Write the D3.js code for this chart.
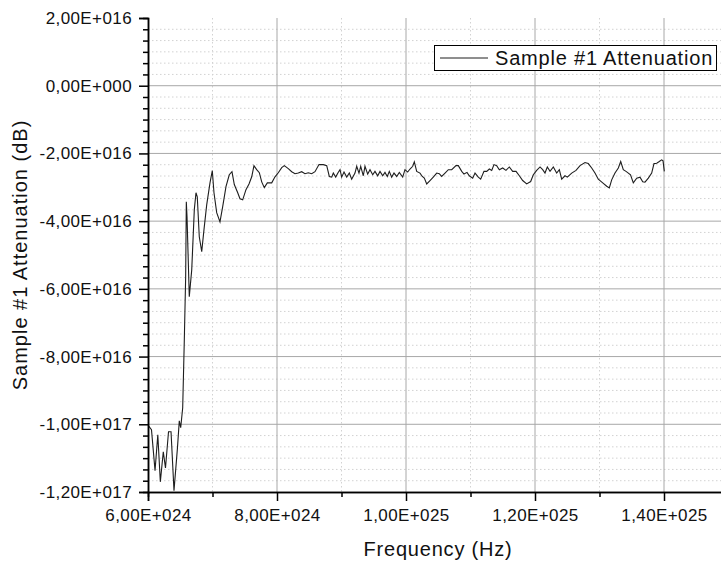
<!DOCTYPE html>
<html>
<head>
<meta charset="utf-8">
<script src="https://cdn.jsdelivr.net/npm/d3@7"></script>
<style>
  body { margin: 0; background: #fff; }
  svg { display: block; font-family: "Liberation Sans", Arial, sans-serif; }
  .tick text { fill: #111; }
</style>
</head>
<body>
<div class="chart"></div>
<script>
// frequency in units of 1E24 Hz
var freq = [6.005, 6.054, 6.109, 6.152, 6.191, 6.237, 6.271, 6.318, 6.357, 6.403,
  6.457, 6.485, 6.507, 6.538, 6.563, 6.584, 6.594, 6.605, 6.640, 6.678,
  6.718, 6.744, 6.764, 6.795, 6.833, 6.868, 6.910, 6.961, 6.997, 7.023,
  7.065, 7.116, 7.158, 7.209, 7.260, 7.302, 7.338, 7.391, 7.426, 7.468,
  7.519, 7.566, 7.608, 7.643, 7.685, 7.726, 7.763, 7.803, 7.850, 7.918,
  7.969, 8.020, 8.073, 8.113, 8.175, 8.228, 8.279, 8.330, 8.383, 8.434,
  8.485, 8.538, 8.589, 8.651, 8.718, 8.771, 8.811, 8.848, 8.873, 8.910,
  8.946, 8.977, 9.003, 9.039, 9.081, 9.121, 9.158, 9.209, 9.236, 9.271,
  9.298, 9.338, 9.364, 9.406, 9.442, 9.484, 9.519, 9.561, 9.597, 9.639,
  9.674, 9.710, 9.741, 9.778, 9.814, 9.856, 9.896, 9.949, 9.984, 10.026,
  10.062, 10.104, 10.129, 10.166, 10.217, 10.253, 10.284, 10.321, 10.372, 10.423,
  10.476, 10.516, 10.553, 10.605, 10.656, 10.709, 10.775, 10.811, 10.864, 10.899,
  10.946, 10.981, 11.034, 11.070, 11.121, 11.158, 11.209, 11.251, 11.292, 11.329,
  11.364, 11.406, 11.447, 11.499, 11.550, 11.602, 11.654, 11.706, 11.757, 11.809,
  11.871, 11.933, 11.974, 12.026, 12.078, 12.119, 12.155, 12.191, 12.233, 12.284,
  12.336, 12.377, 12.414, 12.465, 12.501, 12.569, 12.636, 12.698, 12.775, 12.826,
  12.879, 12.930, 12.981, 13.050, 13.112, 13.152, 13.189, 13.240, 13.292, 13.329,
  13.369, 13.411, 13.447, 13.481, 13.524, 13.577, 13.628, 13.670, 13.705, 13.757,
  13.809, 13.845, 13.887, 13.927, 13.964, 13.985, 14.005];

// attenuation in units of 1E16 dB
var atten = [-10.04, -10.16, -11.37, -10.31, -11.70, -10.81, -11.29, -10.22, -10.22, -11.96,
  -10.69, -9.90, -10.10, -9.51, -7.50, -5.64, -3.43, -3.87, -6.23, -5.44,
  -3.66, -3.16, -3.28, -4.46, -4.90, -4.25, -3.52, -2.87, -2.51, -3.16,
  -3.75, -4.02, -3.57, -2.98, -2.63, -2.54, -2.92, -3.16, -3.34, -3.37,
  -3.07, -2.90, -2.69, -2.36, -2.48, -2.57, -2.84, -3.01, -2.87, -2.87,
  -2.69, -2.57, -2.42, -2.36, -2.45, -2.54, -2.60, -2.58, -2.54, -2.60,
  -2.57, -2.60, -2.54, -2.33, -2.33, -2.36, -2.68, -2.70, -2.58, -2.70,
  -2.57, -2.48, -2.70, -2.55, -2.70, -2.58, -2.76, -2.58, -2.38, -2.58,
  -2.38, -2.66, -2.38, -2.61, -2.48, -2.63, -2.53, -2.66, -2.53, -2.66,
  -2.56, -2.68, -2.53, -2.70, -2.58, -2.68, -2.56, -2.70, -2.48, -2.55,
  -2.46, -2.38, -2.25, -2.53, -2.58, -2.68, -2.73, -2.90, -2.80, -2.70,
  -2.58, -2.60, -2.68, -2.58, -2.48, -2.48, -2.36, -2.36, -2.53, -2.61,
  -2.56, -2.66, -2.73, -2.58, -2.70, -2.76, -2.53, -2.53, -2.46, -2.50,
  -2.33, -2.36, -2.48, -2.43, -2.50, -2.40, -2.53, -2.53, -2.66, -2.80,
  -2.90, -2.83, -2.63, -2.50, -2.40, -2.48, -2.58, -2.40, -2.53, -2.40,
  -2.58, -2.48, -2.76, -2.66, -2.70, -2.58, -2.50, -2.36, -2.27, -2.30,
  -2.43, -2.58, -2.76, -2.87, -2.97, -3.02, -2.78, -2.58, -2.43, -2.24,
  -2.48, -2.53, -2.58, -2.63, -2.87, -2.73, -2.70, -2.84, -2.85, -2.73,
  -2.58, -2.30, -2.29, -2.24, -2.19, -2.22, -2.53];

var xTicks = [6, 8, 10, 12, 14];
var xTickLabels = ["6,00E+024", "8,00E+024", "1,00E+025", "1,20E+025", "1,40E+025"];
var xMinor = [7, 9, 11, 13, 15];
var yTicks = [2, 0, -2, -4, -6, -8, -10, -12];
var yTickLabels = ["2,00E+016", "0,00E+000", "-2,00E+016", "-4,00E+016", "-6,00E+016",
  "-8,00E+016", "-1,00E+017", "-1,20E+017"];

var svgWidth = 721, svgHeight = 566;
var plotLeft = 148, plotTop = 18, plotBottom = 492;

var data = freq.map(function(f, i) { return { f: f, a: atten[i] }; });

var x = d3.scaleLinear().domain([6, 15]).range([plotLeft, plotLeft + 9 * 64.5]);
var y = d3.scaleLinear().domain([-12, 2]).range([plotBottom, plotTop]);

// minor y values: 6 sub-intervals per major step
var yMinor = [];
for (var v = -12; v < 2; v += 2) {
  for (var k = 1; k < 6; k++) yMinor.push(v + k * 2 / 6);
}

var svg = d3.select(".chart").append("svg")
  .attr("width", svgWidth)
  .attr("height", svgHeight);

var grid = svg.append("g");

// minor grid (dotted)
grid.selectAll(".hminor").data(yMinor).enter().append("line")
  .attr("x1", plotLeft).attr("x2", svgWidth)
  .attr("y1", function(d) { return y(d); }).attr("y2", function(d) { return y(d); })
  .attr("stroke", "#d2d2d2").attr("stroke-dasharray", "1.5,2.5");
grid.selectAll(".vminor").data(xMinor).enter().append("line")
  .attr("y1", plotTop).attr("y2", plotBottom)
  .attr("x1", function(d) { return x(d); }).attr("x2", function(d) { return x(d); })
  .attr("stroke", "#d2d2d2").attr("stroke-dasharray", "1.5,2.5");

// major grid
grid.selectAll(".hmajor").data(yTicks.filter(function(d) { return d < 2 && d > -12; }))
  .enter().append("line")
  .attr("x1", plotLeft).attr("x2", svgWidth)
  .attr("y1", function(d) { return y(d); }).attr("y2", function(d) { return y(d); })
  .attr("stroke", "#a8a8a8");
grid.selectAll(".vmajor").data(xTicks.filter(function(d) { return d > 6; }))
  .enter().append("line")
  .attr("y1", plotTop).attr("y2", plotBottom)
  .attr("x1", function(d) { return x(d); }).attr("x2", function(d) { return x(d); })
  .attr("stroke", "#a8a8a8");

// data line
svg.append("path")
  .datum(data)
  .attr("fill", "none")
  .attr("stroke", "#1e1e1e")
  .attr("stroke-width", 1.1)
  .attr("d", d3.line().x(function(d) { return x(d.f); }).y(function(d) { return y(d.a); }));

// axes
var yAxis = d3.axisLeft(y).tickValues(yTicks).tickSize(9).tickPadding(7)
  .tickFormat(function(d, i) { return yTickLabels[i]; });
var yAxisMinor = d3.axisLeft(y).tickValues(yMinor).tickSize(5).tickFormat("");
var xAxis = d3.axisBottom(x).tickValues(xTicks).tickSize(9).tickPadding(8)
  .tickFormat(function(d, i) { return xTickLabels[i]; });
var xAxisMinor = d3.axisBottom(x).tickValues(xMinor).tickSize(5).tickFormat("");

function styleAxis(g) {
  g.select(".domain").attr("stroke", "#000").attr("stroke-width", 1.5);
  g.selectAll(".tick line").attr("stroke", "#000").attr("stroke-width", 1.5);
  g.selectAll(".tick text").attr("font-size", 17).attr("letter-spacing", "0.4px")
    .attr("font-family", "Liberation Sans, Arial, sans-serif");
}

svg.append("g").attr("transform", "translate(" + plotLeft + ",0)").call(yAxisMinor).call(styleAxis);
svg.append("g").attr("transform", "translate(" + plotLeft + ",0)").call(yAxis).call(styleAxis);
svg.append("g").attr("transform", "translate(0," + plotBottom + ")").call(xAxisMinor).call(styleAxis);
svg.append("g").attr("transform", "translate(0," + plotBottom + ")").call(xAxis).call(styleAxis);

// axis titles
svg.append("text")
  .attr("x", 438).attr("y", 556)
  .attr("text-anchor", "middle")
  .attr("font-size", 20).attr("letter-spacing", "0.8px").attr("fill", "#111")
  .text("Frequency (Hz)");

svg.append("text")
  .attr("transform", "translate(27,255) rotate(-90)")
  .attr("text-anchor", "middle")
  .attr("font-size", 20).attr("letter-spacing", "1px").attr("fill", "#111")
  .text("Sample #1 Attenuation (dB)");

// legend
var legend = svg.append("g");
legend.append("rect")
  .attr("x", 434.5).attr("y", 45.5).attr("width", 282).attr("height", 25)
  .attr("fill", "#fff").attr("stroke", "#000").attr("stroke-width", 1);
legend.append("line")
  .attr("x1", 440).attr("x2", 488).attr("y1", 58).attr("y2", 58)
  .attr("stroke", "#1e1e1e");
legend.append("text")
  .attr("x", 495).attr("y", 65)
  .attr("font-size", 20).attr("letter-spacing", "0.8px").attr("fill", "#111")
  .text("Sample #1 Attenuation");
</script>
</body>
</html>
